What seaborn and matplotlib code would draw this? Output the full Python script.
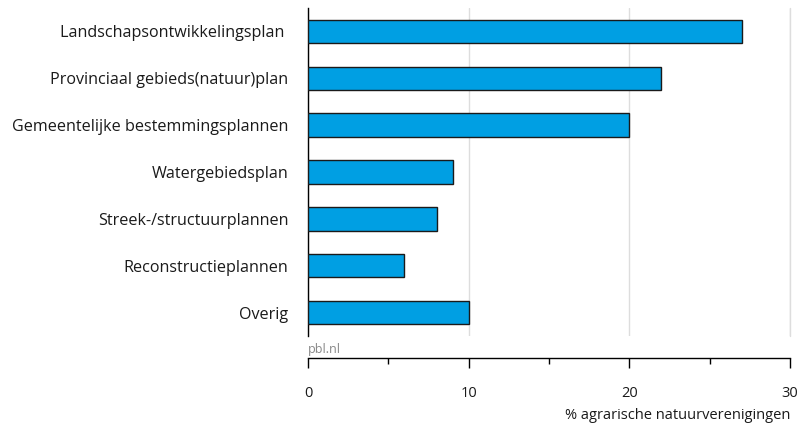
import pandas as pd
import seaborn as sns
import matplotlib.pyplot as plt
from matplotlib.ticker import MultipleLocator

# data
categories = ['Landschapsontwikkelingsplan ', 'Provinciaal gebieds(natuur)plan',
              'Gemeentelijke bestemmingsplannen', 'Watergebiedsplan',
              'Streek-/structuurplannen', 'Reconstructieplannen', 'Overig']
values = [27, 22, 20, 9, 8, 6, 10]

df = pd.DataFrame({'plan': categories, 'pct': values})

sns.set_style('white')
plt.rcParams['font.family'] = ['Open Sans', 'DejaVu Sans']

fig = plt.figure(figsize=(8.01, 4.28), dpi=100)
ax = fig.add_axes([308 / 801, 1 - 336 / 428, 482 / 801, 328 / 428])

sns.barplot(data=df, x='pct', y='plan', orient='h', color='#009fe3',
            saturation=1, width=0.5, edgecolor='#1a1a1a', linewidth=1, ax=ax,
            zorder=3)

ax.set_xlim(0, 30)
ax.set_ylim(6.5, -0.5)
ax.xaxis.set_major_locator(MultipleLocator(10))
ax.xaxis.set_minor_locator(MultipleLocator(5))
ax.grid(axis='x', which='major', color='#dddddd', linewidth=1, zorder=0)
ax.grid(axis='y', visible=False)
# gridline at the right edge gets clipped, draw it explicitly
ax.axvline(ax.get_xlim()[1], color='#dddddd', linewidth=1, zorder=0, clip_on=False)

for s in ['top', 'right']:
    ax.spines[s].set_visible(False)
ax.spines['left'].set_color('black')
ax.spines['left'].set_linewidth(1)
ax.spines['bottom'].set_position(('outward', 16))
ax.spines['bottom'].set_color('black')
ax.spines['bottom'].set_linewidth(1)

ax.tick_params(axis='y', length=0, pad=14, labelsize=11.6, labelcolor='#1a1a1a')
ax.tick_params(axis='x', which='major', direction='out', length=7, width=1,
               color='black', bottom=True, labelsize=10.5, pad=13, labelcolor='#1a1a1a')
ax.tick_params(axis='x', which='minor', direction='out', length=4, width=1,
               color='black', bottom=True)

ax.set_ylabel('')
ax.set_xlabel('% agrarische natuurverenigingen', fontsize=10.5, color='#1a1a1a')
ax.xaxis.set_label_coords(1.0, -0.22)
ax.xaxis.label.set_horizontalalignment('right')

fig.text(308 / 801, 1 - 349 / 428, 'pbl.nl', fontsize=9, color='#888888',
         ha='left', va='center')

fig.savefig('out.png', dpi=100)
